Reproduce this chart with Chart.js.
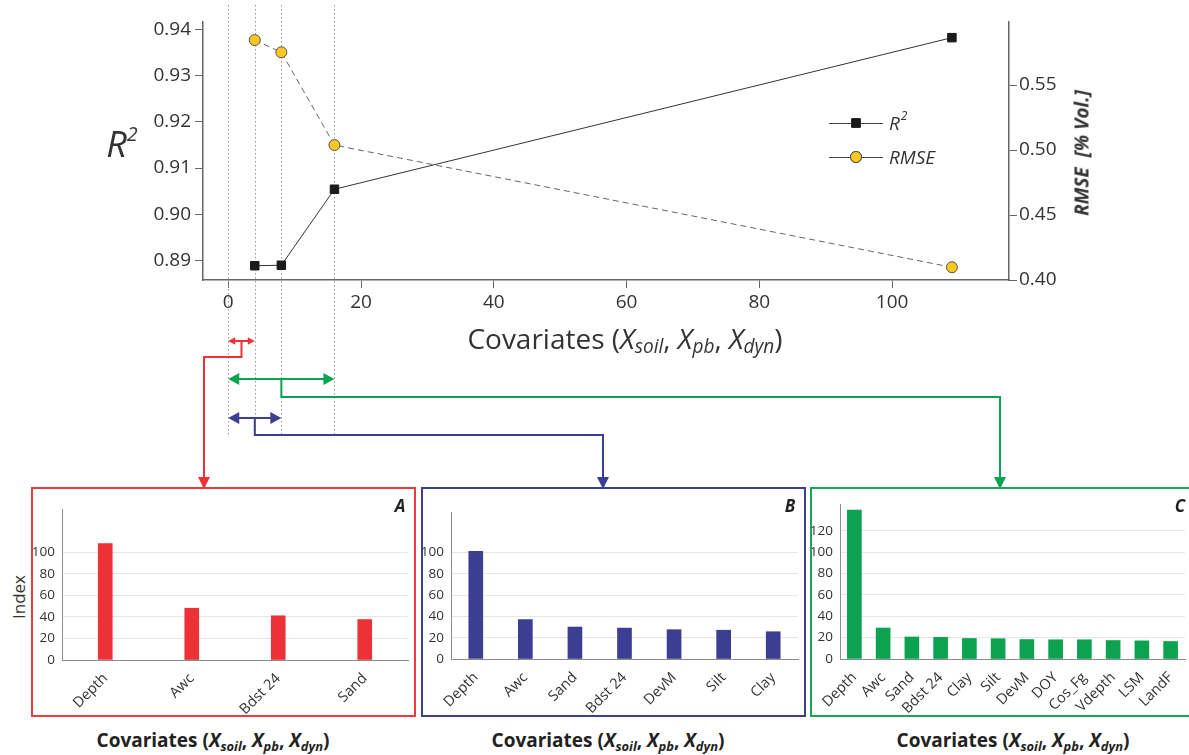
<!DOCTYPE html>
<html>
<head>
<meta charset="utf-8">
<script src="https://cdn.jsdelivr.net/npm/chart.js@4.4.0/dist/chart.umd.min.js"></script>
<style>
  body { margin: 0; width: 1189px; height: 755px; position: relative; background: #fff; overflow: hidden;
         font-family: "Open Sans", sans-serif; color: #333; }
  canvas, .box, .lbl { position: absolute; }
  .box { box-sizing: border-box; border: 2px solid; top: 487px; height: 230px; }
  .lbl { white-space: nowrap; transform: translate(-50%, -50%); line-height: 1; }
  .lbl sub { font-size: 0.68em; vertical-align: -0.25em; }
  .lbl sup { font-size: 0.55em; vertical-align: 0.8em; }
  .rot { transform: translate(-50%, -50%) rotate(-90deg); }
  .foot { font-weight: bold; font-size: 19px; color: #222; }
  .corner { font-weight: bold; font-style: italic; font-size: 17px; color: #222; }
</style>
</head>
<body>

<div class="box" style="left:31px;width:385px;border-color:#EE3B41"></div>
<div class="box" style="left:421px;width:385px;border-color:#3D3F93"></div>
<div class="box" style="left:810px;width:381px;border-color:#17A558"></div>

<canvas id="barsA" width="380" height="226" style="left:33px;top:489px"></canvas>
<canvas id="barsB" width="380" height="226" style="left:423px;top:489px"></canvas>
<canvas id="barsC" width="375" height="226" style="left:812px;top:489px"></canvas>
<canvas id="main" width="1189" height="490" style="left:0;top:0"></canvas>

<div class="lbl" style="left:122px;top:143px;font-size:36px;font-style:italic">R<sup>2</sup></div>
<div class="lbl" style="left:625px;top:340px;font-size:28px">Covariates (<i>X<sub>soil</sub></i>, <i>X<sub>pb</sub></i>, <i>X<sub>dyn</sub></i>)</div>
<div class="lbl rot" style="left:1082px;top:153px;font-size:19px;font-weight:bold;font-style:italic">RMSE&nbsp; [% Vol.]</div>
<div class="lbl rot" style="left:18px;top:597px;font-size:17px">Index</div>

<div class="lbl corner" style="left:400px;top:505px">A</div>
<div class="lbl corner" style="left:790px;top:505px">B</div>
<div class="lbl corner" style="left:1180px;top:505px">C</div>

<div class="lbl foot" style="left:213px;top:742px">Covariates (<i>X<sub>soil</sub></i>, <i>X<sub>pb</sub></i>, <i>X<sub>dyn</sub></i>)</div>
<div class="lbl foot" style="left:608px;top:742px">Covariates (<i>X<sub>soil</sub></i>, <i>X<sub>pb</sub></i>, <i>X<sub>dyn</sub></i>)</div>
<div class="lbl foot" style="left:1013px;top:742px">Covariates (<i>X<sub>soil</sub></i>, <i>X<sub>pb</sub></i>, <i>X<sub>dyn</sub></i>)</div>

<script>
// top panel: model skill vs number of covariates
const nCov = [4, 8, 16, 109];
const r2Vals = [0.8888, 0.8889, 0.9054, 0.9383];
const rmseVals = [0.5846, 0.5752, 0.5038, 0.4098];
const xTicks = [0, 20, 40, 60, 80, 100];
const r2Ticks = [0.89, 0.90, 0.91, 0.92, 0.93, 0.94];
const rmseTicks = [0.40, 0.45, 0.50, 0.55];

// bottom panels: importance index per covariate
const labelsA = ["Depth", "Awc", "Bdst 24", "Sand"];
const valuesA = [108, 48, 41, 37.5];
const labelsB = ["Depth", "Awc", "Sand", "Bdst 24", "DevM", "Silt", "Clay"];
const valuesB = [101, 37, 30, 29, 27.5, 27, 25.6];
const labelsC = ["Depth", "Awc", "Sand", "Bdst 24", "Clay", "Silt", "DevM", "DOY", "Cos_Fg", "Vdepth", "LSM", "LandF"];
const valuesC = [139.4, 29, 20.6, 20.3, 19.2, 19, 18.2, 18, 18, 17.3, 17, 16.4];
const indexTicksAB = [0, 20, 40, 60, 80, 100];
const indexTicksC = [0, 20, 40, 60, 80, 100, 120];

const RED = "#ED3237", BLUE = "#3B3E93", GREEN = "#0BA350";

Chart.defaults.font.family = '"Open Sans", sans-serif';
Chart.defaults.color = "#333";

// arrows linking the subsets to the bar panels
const links = [
  { n: nCov[0], color: RED, y: 341, drop: 357, tx: 204, head: 7 },
  { n: nCov[2], color: GREEN, y: 379, drop: 397, tx: 1000, head: 11 },
  { n: nCov[1], color: BLUE, y: 418, drop: 435, tx: 603, head: 11 },
];

function tri(ctx, x, y, dir, len, half) {
  ctx.beginPath();
  if (dir === "left") { ctx.moveTo(x, y); ctx.lineTo(x + len, y - half); ctx.lineTo(x + len, y + half); }
  if (dir === "right") { ctx.moveTo(x, y); ctx.lineTo(x - len, y - half); ctx.lineTo(x - len, y + half); }
  if (dir === "down") { ctx.moveTo(x, y); ctx.lineTo(x - half, y - len); ctx.lineTo(x + half, y - len); }
  ctx.closePath();
  ctx.fill();
}

const guides = {
  id: "guides",
  beforeDatasetsDraw(chart) {
    const { ctx, scales: { x } } = chart;
    ctx.save();
    ctx.strokeStyle = "#9a9a9a";
    ctx.lineWidth = 1;
    ctx.setLineDash([1.5, 2.5]);
    [0, ...nCov.slice(0, 3)].forEach(v => {
      const px = Math.round(x.getPixelForValue(v)) + 0.5;
      ctx.beginPath(); ctx.moveTo(px, 5); ctx.lineTo(px, 436); ctx.stroke();
    });
    ctx.restore();
  },
  afterDraw(chart) {
    const { ctx, scales: { x } } = chart;
    ctx.save();
    ctx.lineWidth = 2;
    links.forEach(l => {
      const x0 = x.getPixelForValue(0), x1 = x.getPixelForValue(l.n), xm = x.getPixelForValue(l.n / 2);
      const h = l.head, hh = l.head * 0.55;
      ctx.strokeStyle = l.color; ctx.fillStyle = l.color;
      ctx.beginPath(); ctx.moveTo(x0 + h - 1, l.y); ctx.lineTo(x1 - h + 1, l.y); ctx.stroke();
      tri(ctx, x0, l.y, "left", h, hh);
      tri(ctx, x1, l.y, "right", h, hh);
      ctx.beginPath();
      ctx.moveTo(xm, l.y); ctx.lineTo(xm, l.drop); ctx.lineTo(l.tx, l.drop); ctx.lineTo(l.tx, 478);
      ctx.stroke();
      tri(ctx, l.tx, 489, "down", 12, 6);
    });

    // legend
    const rows = [
      { y: 123, ds: chart.data.datasets[0] },
      { y: 157, ds: chart.data.datasets[1] },
    ];
    rows.forEach(r => {
      ctx.strokeStyle = "#444"; ctx.lineWidth = 1; ctx.setLineDash([]);
      ctx.beginPath(); ctx.moveTo(829, r.y + 0.5); ctx.lineTo(883, r.y + 0.5); ctx.stroke();
      Chart.helpers.drawPoint(ctx, {
        pointStyle: r.ds.pointStyle, radius: r.ds.pointRadius, borderWidth: 1, rotation: 0
      }, 856, r.y);
      ctx.fillStyle = r.ds.pointBackgroundColor;
      ctx.strokeStyle = r.ds.pointBorderColor;
      ctx.fill(); ctx.stroke();
    });
    ctx.fillStyle = "#333";
    ctx.textBaseline = "middle";
    ctx.font = 'italic 19px "Open Sans", sans-serif';
    ctx.fillText("R", 889, 125);
    const w = ctx.measureText("R").width;
    ctx.font = 'italic 12px "Open Sans", sans-serif';
    ctx.fillText("2", 889 + w + 1, 117);
    ctx.font = 'italic 19px "Open Sans", sans-serif';
    ctx.fillText("RMSE", 889, 159);
    ctx.restore();
  }
};

new Chart(document.getElementById("main"), {
  type: "line",
  data: {
    datasets: [
      {
        label: "R2",
        data: nCov.map((v, i) => ({ x: v, y: r2Vals[i] })),
        yAxisID: "y",
        borderColor: "#333",
        borderWidth: 1,
        pointStyle: "rect",
        pointRadius: 6,
        pointBackgroundColor: "#1b1b1b",
        pointBorderColor: "#1b1b1b",
        pointBorderWidth: 1,
      },
      {
        label: "RMSE",
        data: nCov.map((v, i) => ({ x: v, y: rmseVals[i] })),
        yAxisID: "y1",
        borderColor: "#666",
        borderWidth: 1,
        borderDash: [6, 4],
        pointStyle: "circle",
        pointRadius: 5.5,
        pointBackgroundColor: "#FDC623",
        pointBorderColor: "#555",
        pointBorderWidth: 1,
      },
    ],
  },
  options: {
    responsive: false,
    animation: false,
    layout: { padding: { top: 22, left: 0, right: 0, bottom: 0 } },
    plugins: { legend: { display: false }, tooltip: { enabled: false } },
    scales: {
      x: {
        type: "linear",
        min: -3.8,
        max: 117.6,
        afterBuildTicks: s => { s.ticks = xTicks.map(v => ({ value: v })); },
        afterFit: s => { s.height = 210; },
        grid: { drawOnChartArea: false, tickLength: 8, color: "#666" },
        border: { color: "#666", width: 1.5 },
        ticks: { font: { size: 19 }, color: "#333", padding: 3 },
      },
      y: {
        position: "left",
        min: 0.8857,
        max: 0.9417,
        afterBuildTicks: s => { s.ticks = r2Ticks.map(v => ({ value: v })); },
        afterFit: s => { s.width = 203; },
        grid: { drawOnChartArea: false, tickLength: 8, color: "#666" },
        border: { color: "#666", width: 1.5 },
        ticks: { font: { size: 19 }, color: "#333", padding: 4, callback: v => v.toFixed(2) },
      },
      y1: {
        position: "right",
        min: 0.40,
        max: 0.5985,
        afterBuildTicks: s => { s.ticks = rmseTicks.map(v => ({ value: v })); },
        afterFit: s => { s.width = 180; },
        grid: { drawOnChartArea: false, tickLength: 8, color: "#666" },
        border: { color: "#666", width: 1.5 },
        ticks: { font: { size: 19 }, color: "#333", padding: 2, callback: v => v.toFixed(2) },
      },
    },
  },
  plugins: [guides],
});

function makeBars(id, labels, values, color, yMax, yTicks, box) {
  new Chart(document.getElementById(id), {
    type: "bar",
    data: { labels, datasets: [{ data: values, backgroundColor: color, barThickness: 14 }] },
    options: {
      responsive: false,
      animation: false,
      layout: { padding: { top: box.top, right: box.right, left: 0, bottom: 0 } },
      plugins: { legend: { display: false }, tooltip: { enabled: false } },
      scales: {
        x: {
          grid: { display: false },
          border: { color: "#8c8c8c" },
          ticks: { font: { size: 14.5 }, color: "#333", minRotation: 45, maxRotation: 45, padding: 2, autoSkip: false },
          afterFit: s => { s.height = box.bottom; },
        },
        y: {
          min: 0,
          max: yMax,
          afterBuildTicks: s => { s.ticks = yTicks.map(v => ({ value: v })); },
          afterFit: s => { s.width = box.left; },
          grid: { color: "#e6e6e6", drawTicks: false },
          border: { color: "#8c8c8c" },
          ticks: { font: { size: 13.5 }, color: "#333", padding: 7 },
        },
      },
    },
  });
}

makeBars("barsA", labelsA, valuesA, RED, 140, indexTicksAB, { left: 29, top: 20, right: 5, bottom: 55 });
makeBars("barsB", labelsB, valuesB, BLUE, 138, indexTicksAB, { left: 28, top: 23, right: 5, bottom: 56 });
makeBars("barsC", labelsC, valuesC, GREEN, 145, indexTicksC, { left: 28, top: 15, right: 2, bottom: 56 });
</script>
</body>
</html>
